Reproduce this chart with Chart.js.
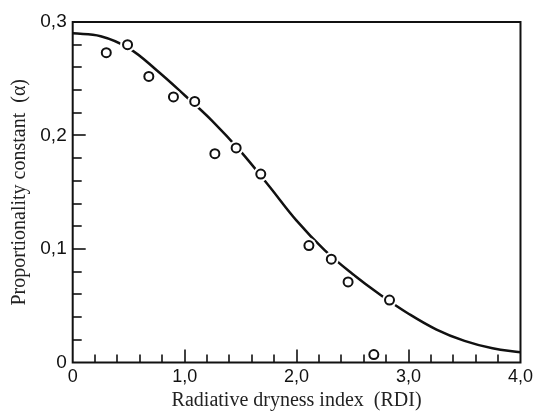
<!DOCTYPE html>
<html>
<head>
<meta charset="utf-8">
<script src="https://cdn.jsdelivr.net/npm/chart.js@4/dist/chart.umd.min.js"></script>
<style>
  body { margin: 0; background: #fff; }
</style>
</head>
<body>
<canvas id="chart" width="537" height="415"></canvas>
<script>
// fitted curve
const curveX = [0, 0.25, 0.5, 0.75, 1.0, 1.25, 1.5, 1.75, 2.0, 2.25, 2.5, 2.75, 3.0, 3.25, 3.5, 3.75, 4.0];
const curveY = [0.290, 0.2875, 0.277, 0.2575, 0.2355, 0.2125, 0.186, 0.156, 0.125, 0.099, 0.078, 0.0595, 0.043, 0.029, 0.019, 0.0125, 0.009];

// observed values (open circles)
const obsX = [0.30, 0.49, 0.68, 0.90, 1.09, 1.27, 1.46, 1.68, 2.11, 2.31, 2.46, 2.83, 2.69];
const obsY = [0.273, 0.280, 0.252, 0.234, 0.230, 0.184, 0.189, 0.166, 0.103, 0.091, 0.071, 0.055, 0.007];

// tick marks on the inside of the frame
const xTicks = [0.2, 0.4, 0.6, 0.8, 1.0, 1.2, 1.4, 1.6, 1.8, 2.0, 2.2, 2.4, 2.6, 2.8, 3.0, 3.2, 3.4, 3.6, 3.8];
const xMajor = [1.0, 2.0, 3.0];
const yTicks = [0.02, 0.04, 0.06, 0.08, 0.1, 0.12, 0.14, 0.16, 0.18, 0.2, 0.22, 0.24, 0.26, 0.28];
const yMajor = [0.1, 0.2];

const sans = "'Liberation Sans', Arial, sans-serif";
const serif = "'Liberation Serif', 'Times New Roman', serif";

const fmt = (v) => v === 0 ? '0' : v.toFixed(1).replace('.', ',');

const frameTicks = {
  id: 'frameTicks',
  afterDraw(chart) {
    const { ctx, chartArea: { left, right, top, bottom }, scales: { x, y } } = chart;
    ctx.save();
    ctx.strokeStyle = '#111';
    ctx.lineWidth = 1.6;
    xTicks.forEach((v) => {
      const px = Math.round(x.getPixelForValue(v));
      const len = xMajor.includes(v) ? 13 : 8;
      ctx.beginPath();
      ctx.moveTo(px, bottom);
      ctx.lineTo(px, bottom - len);
      ctx.stroke();
    });
    yTicks.forEach((v) => {
      const py = Math.round(y.getPixelForValue(v));
      const len = yMajor.includes(v) ? 13 : 9;
      ctx.beginPath();
      ctx.moveTo(left, py);
      ctx.lineTo(left + len, py);
      ctx.stroke();
    });
    ctx.lineWidth = 2;
    ctx.strokeRect(left, top, right - left, bottom - top);
    ctx.restore();
  }
};

const points = obsX.map((x, i) => ({ x: x, y: obsY[i] }));

new Chart(document.getElementById('chart'), {
  type: 'scatter',
  data: {
    datasets: [
      {
        data: points,
        pointRadius: 4.5,
        pointBorderWidth: 2,
        pointBorderColor: '#111',
        pointBackgroundColor: '#fff',
        order: 0
      },
      {
        // white gap round each circle where it sits on the curve
        data: points,
        pointRadius: 7.5,
        pointBorderWidth: 0,
        pointBackgroundColor: '#fff',
        order: 1
      },
      {
        data: curveX.map((x, i) => ({ x: x, y: curveY[i] })),
        showLine: true,
        borderColor: '#111',
        borderWidth: 2.5,
        pointRadius: 0,
        tension: 0.4,
        order: 2
      }
    ]
  },
  options: {
    responsive: false,
    animation: false,
    devicePixelRatio: 1,
    layout: { padding: { top: 22, right: 15, left: 4, bottom: 2 } },
    plugins: {
      legend: { display: false },
      tooltip: { enabled: false }
    },
    scales: {
      x: {
        type: 'linear',
        min: 0,
        max: 4,
        afterFit: (scale) => { scale.height = 50.5; },
        grid: { display: false, drawTicks: false },
        border: { display: false },
        ticks: {
          stepSize: 1,
          padding: 4,
          color: '#111',
          font: { family: sans, size: 18 },
          callback: (v) => fmt(v)
        },
        title: {
          display: true,
          text: 'Radiative dryness index  (RDI)',
          color: '#222',
          padding: 0,
          font: { family: serif, size: 20 }
        }
      },
      y: {
        type: 'linear',
        min: 0,
        max: 0.3,
        afterFit: (scale) => { scale.width = 68.7; },
        grid: { display: false, drawTicks: false },
        border: { display: false },
        ticks: {
          stepSize: 0.1,
          padding: 6,
          color: '#111',
          font: { family: sans, size: 19 },
          callback: (v) => fmt(v)
        },
        title: {
          display: true,
          text: 'Proportionality constant  (α)',
          color: '#222',
          padding: { top: 4, bottom: 0 },
          font: { family: serif, size: 20 }
        }
      }
    }
  },
  plugins: [frameTicks]
});
</script>
</body>
</html>
